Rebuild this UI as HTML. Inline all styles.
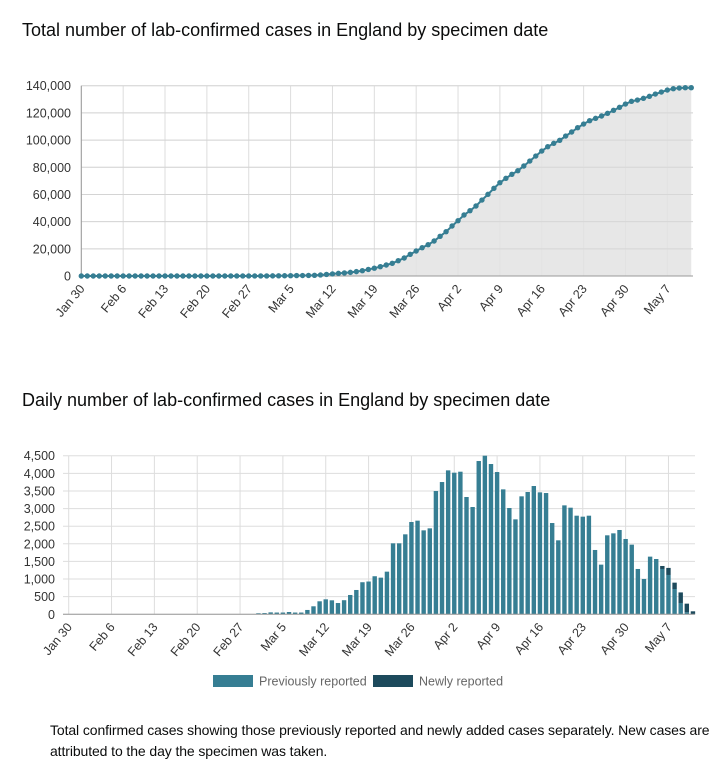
<!DOCTYPE html>
<html><head><meta charset="utf-8"><style>
body{margin:0;background:#fff;width:720px;height:772px;overflow:hidden;font-family:"Liberation Sans",sans-serif}
svg{position:absolute;left:0;top:0}
.t{font-size:18px;fill:#0b0c0c}
.tick{font-size:12.5px;fill:#333}
.note{position:absolute;left:50px;top:720px;width:670px;font-size:14px;line-height:21px;color:#0b0c0c;letter-spacing:-0.1px}
</style></head><body>
<svg id="chart" width="720" height="772"></svg>
<div class="note">Total confirmed cases showing those previously reported and newly added cases separately. New cases are attributed to the day the specimen was taken.</div>
<script>
const tickDates=["Jan 30","Feb 6","Feb 13","Feb 20","Feb 27","Mar 5","Mar 12","Mar 19","Mar 26","Apr 2","Apr 9","Apr 16","Apr 23","Apr 30","May 7"];
const cumTicks=[0,20000,40000,60000,80000,100000,120000,140000];
const dailyTicks=[0,500,1000,1500,2000,2500,3000,3500,4000,4500];
const cumulative=[2,2,2,2,3,3,3,3,3,4,4,4,5,5,5,5,6,6,6,7,7,8,8,9,9,10,11,12,14,
19,21,51,86,141,191,241,306,356,406,529,756,1125,1550,1947,2267,2667,3215,3905,4815,5745,
6870,8090,9320,11280,13240,15940,18390,20840,23050,25750,29180,32610,36780,40700,44870,48060,51490,55900,60070,64490,68660,71840,74790,77480,80920,84590,88270,91950,95140,97590,99800,102980,105930,109110,111810,114260,115980,117700,119660,121870,124070,126520,128480,129470,130690,132160,133880,135350,136820,137800,138290,138530,138530];
const previouslyReported=[0,0,0,0,0,0,0,0,0,0,0,0,0,0,0,0,0,0,0,0,0,0,0,0,0,0,0,0,0,
5,2,30,35,55,50,50,65,50,50,123,227,369,425,397,320,400,548,690,910,930,
1080,1040,1210,2014,2014,2269,2619,2657,2382,2439,
3498,3753,4084,4018,4046,3328,3044,4349,4500,4264,
4037,3545,3016,2694,3347,3470,3640,3460,3441,2590,
2099,3091,3025,2798,2770,2798,1825,1409,2241,2297,
2392,2137,1976,1286,1002,1636,1569,1286,1116,718,
321,57,0];
const newlyReported=[0,0,0,0,0,0,0,0,0,0,0,0,0,0,0,0,0,0,0,0,0,0,0,0,0,0,0,0,0,
0,0,0,0,0,0,0,0,0,0,0,0,0,0,0,0,0,0,0,0,0,
0,0,0,0,0,0,0,0,0,0,
0,0,0,0,0,0,0,0,0,0,
0,0,0,0,0,0,0,0,0,0,
0,0,0,0,0,0,0,0,0,0,
0,0,0,0,0,0,0,85,200,180,
300,245,85];
const NS="http://www.w3.org/2000/svg";
const svg=document.getElementById('chart');
function mk(tag,attrs,parent){const e=document.createElementNS(NS,tag);for(const k in attrs)e.setAttribute(k,attrs[k]);(parent||svg).appendChild(e);return e;}
function fmt(v){return v.toLocaleString('en-US');}
let t=mk('text',{x:22,y:36,class:'t'});t.textContent="Total number of lab-confirmed cases in England by specimen date";


t=mk('text',{x:22,y:406,class:'t'});t.textContent="Daily number of lab-confirmed cases in England by specimen date";



const c1={x0:81.3,dx:5.98,y0:276,ymax:140000,h:190.3,right:693};
const x1=d=>c1.x0+d*c1.dx, y1=v=>c1.y0-v/c1.ymax*c1.h;
cumTicks.forEach(v=>{
  const l=mk('line',{x1:c1.x0,x2:c1.right,y1:y1(v),y2:y1(v),stroke:'#ddd','stroke-width':1});
  
  
  const tx=mk('text',{x:71,y:y1(v)+4.5,'text-anchor':'end',class:'tick'});tx.textContent=fmt(v);
  
  
});
tickDates.forEach((s,i)=>{
  const xx=x1(i*7);
  const l=mk('line',{x1:xx,x2:xx,y1:c1.y0-c1.h,y2:c1.y0,stroke:'#ddd','stroke-width':1});
  
  
  const tx=mk('text',{x:xx+4,y:c1.y0+13,'text-anchor':'end',class:'tick',transform:`rotate(-50 ${xx+4} ${c1.y0+13})`});tx.textContent=s;
  
  
});
let pts=cumulative.map((v,i)=>`${x1(i)},${y1(v)}`);
const area=mk('path',{d:`M${x1(0)},${c1.y0}L${pts.join('L')}L${x1(cumulative.length-1)},${c1.y0}Z`,fill:'#e3e3e3','fill-opacity':0.85});


cumTicks.forEach(v=>{mk('line',{x1:c1.x0,x2:c1.right,y1:y1(v),y2:y1(v),stroke:'#ccc','stroke-width':1,'stroke-opacity':0.5});});
mk('line',{x1:c1.x0,x2:c1.x0,y1:c1.y0-c1.h,y2:c1.y0,stroke:'#999'});
mk('line',{x1:c1.x0,x2:c1.right,y1:c1.y0,y2:c1.y0,stroke:'#999'});
const line=mk('polyline',{points:pts.join(' '),fill:'none',stroke:'#367e93','stroke-width':2});


cumulative.forEach((v,i)=>{
  const c=mk('circle',{cx:x1(i),cy:y1(v),r:2.7,fill:'#367e93'});
  
  
});

const c2={x0:68.7,dx:6.12,y0:614.3,ymax:4500,h:158.6,left:63,right:695,bw:4.4};
const x2=d=>c2.x0+d*c2.dx, y2=v=>c2.y0-v/c2.ymax*c2.h;
dailyTicks.forEach(v=>{
  const l=mk('line',{x1:c2.left,x2:c2.right,y1:y2(v),y2:y2(v),stroke:'#ddd','stroke-width':1});
  
  
  const tx=mk('text',{x:55,y:y2(v)+4.5,'text-anchor':'end',class:'tick'});tx.textContent=fmt(v);
  
  
});
tickDates.forEach((s,i)=>{
  const xx=x2(i*7);
  const l=mk('line',{x1:xx,x2:xx,y1:c2.y0-c2.h,y2:c2.y0,stroke:'#ddd','stroke-width':1});
  
  
  const tx=mk('text',{x:xx+4,y:c2.y0+13,'text-anchor':'end',class:'tick',transform:`rotate(-50 ${xx+4} ${c2.y0+13})`});tx.textContent=s;
  
  
});
previouslyReported.forEach((v,i)=>{
  const n=newlyReported[i]||0;
  if(v>0){const r=mk('rect',{x:x2(i)-c2.bw/2,y:y2(v),width:c2.bw,height:c2.y0-y2(v),fill:'#367e93'});
    
    }
  if(n>0){const r=mk('rect',{x:x2(i)-c2.bw/2,y:y2(v+n),width:c2.bw,height:y2(v)-y2(v+n),fill:'#1d4a5c'});
    
    }
});
mk('line',{x1:c2.left,x2:c2.right,y1:c2.y0,y2:c2.y0,stroke:'#999'});

let g=mk('g',{});


let r=mk('rect',{x:213,y:675,width:40,height:12,fill:'#367e93'},g);


t=mk('text',{x:259,y:685.5,'font-size':12.5,fill:'#666'},g);t.textContent="Previously reported";


r=mk('rect',{x:373,y:675,width:40,height:12,fill:'#1d4a5c'},g);


t=mk('text',{x:419,y:685.5,'font-size':12.5,fill:'#666'},g);t.textContent="Newly reported";


</script>
</body></html>
